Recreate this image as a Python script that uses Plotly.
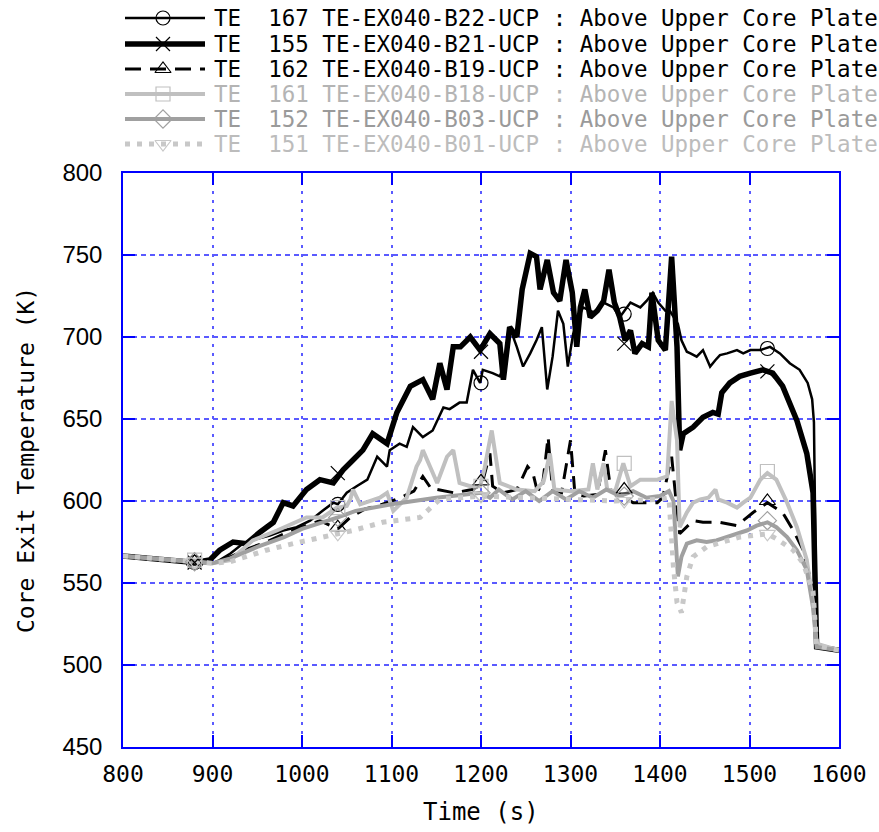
import plotly.graph_objects as go

# ---------------- data ----------------
t_b22 = [800, 850, 880, 900, 908, 920, 934, 950, 964, 979, 994, 1009, 1023, 1035, 1040, 1050, 1061, 1073, 1084, 1095,
         1098, 1109, 1117, 1124, 1135, 1146, 1158, 1165, 1176, 1184, 1191, 1199, 1202, 1213, 1221, 1229, 1232, 1240,
         1247, 1255, 1262, 1268, 1274, 1280, 1286, 1292, 1297, 1303, 1309, 1314, 1326, 1337, 1348, 1355, 1367, 1378,
         1385, 1392, 1398, 1406, 1411, 1416, 1420, 1424, 1430, 1434, 1441, 1448, 1456, 1462, 1467, 1475, 1486, 1493,
         1501, 1512, 1523, 1534, 1545, 1556, 1565, 1570, 1572, 1575, 1600]
y_b22 = [566.5, 564.5, 562.5, 562, 564, 568, 574, 577, 579, 582, 584, 588, 594, 599, 598, 605, 609, 613, 627, 621,
         631, 635, 633, 645, 639, 643, 657, 656, 660, 660, 680, 672, 680, 678, 676, 688, 706, 694,
         682, 690, 698, 706, 668, 688, 716, 708, 682, 702, 712, 718, 715, 721, 718, 712, 721, 718,
         722, 727, 721, 716, 716, 712, 708, 698, 691, 690, 688, 692, 682, 686, 689, 690, 692, 690,
         692, 692, 694, 690, 684, 680, 672, 662, 648, 513, 509]

t_b21 = [800, 850, 880, 897, 908, 923, 938, 953, 968, 979, 990, 1005, 1020, 1035, 1046, 1057, 1068, 1079, 1095, 1106,
         1121, 1135, 1146, 1154, 1162, 1169, 1177, 1188, 1199, 1210, 1221, 1225, 1232, 1240, 1246, 1255, 1262, 1266,
         1274, 1281, 1288, 1295, 1302, 1307, 1311, 1316, 1322, 1330, 1337, 1343, 1349, 1355, 1361, 1367, 1372, 1380,
         1387, 1391, 1398, 1406, 1413, 1419, 1422, 1426, 1437, 1448, 1459, 1465, 1469, 1478, 1489, 1501, 1515, 1526,
         1537, 1553, 1564, 1571, 1575, 1600]
y_b21 = [566.5, 564.5, 562.5, 564, 570, 575, 574, 581, 587, 599, 597, 607, 613, 611, 619, 625, 631, 641, 635, 654,
         670, 674, 662, 684, 668, 694, 694, 700, 692, 702, 696, 674, 706, 700, 729, 751, 749, 729,
         747, 727, 722, 747, 727, 694, 718, 729, 712, 716, 722, 741, 721, 712, 698, 704, 690, 696,
         694, 727, 698, 692, 749, 694, 631, 641, 645, 651, 654, 653, 666, 672, 676, 678, 680, 678,
         670, 649, 629, 605, 511, 509]

t_b19 = [800, 850, 880, 900, 920, 940, 960, 980, 1000, 1020, 1040, 1054, 1070, 1090, 1110, 1125, 1135, 1145, 1151,
         1170, 1190, 1201, 1210, 1213, 1225, 1240, 1247, 1252, 1258, 1262, 1268, 1275, 1280, 1290, 1300, 1305, 1315,
         1330, 1339, 1345, 1355, 1363, 1370, 1385, 1397, 1403, 1413, 1418, 1422, 1437, 1448, 1467, 1486, 1504, 1520,
         1537, 1549, 1560, 1571, 1575, 1600]
y_b19 = [566.5, 564.5, 562.5, 562, 566, 571, 575, 580, 584, 588, 583, 590, 595, 598, 602, 606, 615, 607, 607,
         605, 607, 610, 629, 609, 605, 607, 615, 621, 617, 608, 606, 639, 606, 605, 637, 604, 603,
         604, 631, 606, 604, 601, 599, 599, 599, 602, 627, 600, 580, 588, 587, 587, 585, 593, 599,
         593, 582, 570, 546, 512, 509]

t_b18 = [800, 850, 880, 900, 920, 945, 972, 1005, 1023, 1039, 1042, 1050, 1054, 1057, 1065, 1087, 1095, 1102, 1117,
         1128, 1132, 1135, 1143, 1151, 1162, 1169, 1176, 1188, 1199, 1204, 1212, 1221, 1240, 1260, 1270, 1277, 1282,
         1300, 1320, 1325, 1330, 1337, 1341, 1350, 1359, 1367, 1378, 1389, 1397, 1408, 1413, 1419, 1422, 1430, 1437,
         1445, 1454, 1462, 1465, 1475, 1486, 1493, 1501, 1512, 1520, 1530, 1542, 1553, 1564, 1571, 1575, 1600]
y_b18 = [566.5, 564.5, 563, 562, 564, 576, 582, 590, 590, 596, 596, 597, 601, 607, 598, 602, 605, 594, 602,
         621, 625, 631, 621, 611, 627, 631, 611, 609, 609, 620, 643, 611, 607, 606, 612, 629, 607,
         606, 607, 623, 607, 623, 607, 606, 623, 609, 613, 613, 613, 615, 661, 637, 584, 593, 599,
         601, 602, 607, 601, 599, 596, 599, 602, 613, 617, 613, 599, 584, 564, 538, 513, 509]

t_b03 = [800, 850, 880, 900, 920, 950, 980, 1000, 1040, 1060, 1100, 1150, 1200, 1210, 1220, 1235, 1250, 1265, 1280,
         1295, 1310, 1325, 1340, 1355, 1370, 1385, 1400, 1410, 1415, 1420, 1424, 1430, 1441, 1452, 1463, 1475, 1486,
         1497, 1508, 1520, 1530, 1542, 1553, 1564, 1571, 1575, 1600]
y_b03 = [566.5, 564.5, 563, 562, 565, 572, 578, 583, 590, 594, 598, 602, 605, 602, 607, 601, 606, 600, 606,
         601, 606, 602, 607, 603, 606, 602, 603, 606, 600, 554, 566, 574, 576, 575, 576, 578, 580,
         582, 585, 587, 584, 578, 570, 558, 535, 511, 509]

t_b01 = [800, 850, 880, 900, 920, 942, 960, 990, 1020, 1040, 1057, 1090, 1132, 1154, 1200, 1250, 1300, 1350, 1400,
         1410, 1415, 1419, 1424, 1430, 1437, 1452, 1470, 1489, 1505, 1520, 1530, 1549, 1560, 1571, 1575, 1600]
y_b01 = [566.5, 564.5, 563, 562, 563, 567, 570, 574, 578, 580, 582, 587, 590, 601, 603, 602, 601, 600, 601,
         602, 560, 538, 532, 554, 566, 572, 575, 578, 579, 580, 577, 570, 562, 545, 512, 509]

marker_t = [880, 1040, 1200, 1360, 1520]
mk_b22 = [562.5, 598, 672, 714, 693]
mk_b21 = [562.5, 617, 691, 696, 679]
mk_b19 = [563, 584, 612, 607, 600]
mk_b18 = [564, 596, 609, 623, 618]
mk_b03 = [563, 590, 605, 603, 588]
mk_b01 = [563, 580, 603, 600, 580]

labels = [
    "TE  167 TE-EX040-B22-UCP : Above Upper Core Plate",
    "TE  155 TE-EX040-B21-UCP : Above Upper Core Plate",
    "TE  162 TE-EX040-B19-UCP : Above Upper Core Plate",
    "TE  161 TE-EX040-B18-UCP : Above Upper Core Plate",
    "TE  152 TE-EX040-B03-UCP : Above Upper Core Plate",
    "TE  151 TE-EX040-B01-UCP : Above Upper Core Plate",
]
x_ticks = [800, 900, 1000, 1100, 1200, 1300, 1400, 1500, 1600]
y_ticks = [450, 500, 550, 600, 650, 700, 750, 800]
x_title = "Time (s)"
y_title = "Core Exit Temperature (K)"

# ---------------- styling ----------------
W, H = 879, 832
PL, PR, PT, PB = 123, 839, 173, 747
MONO = "DejaVu Sans Mono"
BLUE = "#0000ff"
GRID = "#5a5aff"

series = [
    dict(t=t_b22, y=y_b22, mk=mk_b22, color="#000000", width=2.5, dash="solid", sym="circle-open", txt="#000000"),
    dict(t=t_b21, y=y_b21, mk=mk_b21, color="#000000", width=5.5, dash="solid", sym="x-thin-open", txt="#000000"),
    dict(t=t_b19, y=y_b19, mk=mk_b19, color="#000000", width=3, dash="16px,9px", sym="triangle-up-open", txt="#000000"),
    dict(t=t_b18, y=y_b18, mk=mk_b18, color="#c0c0c0", width=4, dash="solid", sym="square-open", txt="#b4b4b4"),
    dict(t=t_b03, y=y_b03, mk=mk_b03, color="#a0a0a0", width=4, dash="solid", sym="diamond-open", txt="#9a9a9a"),
    dict(t=t_b01, y=y_b01, mk=mk_b01, color="#c8c8c8", width=5, dash="5px,7px", sym="triangle-down-open", txt="#bcbcbc"),
]

fig = go.Figure()

for s in series:
    fig.add_trace(go.Scatter(x=s["t"], y=s["y"], mode="lines",
                             line=dict(color=s["color"], width=s["width"], dash=s["dash"]),
                             xaxis="x", yaxis="y", showlegend=False))
for s in series:
    fig.add_trace(go.Scatter(x=marker_t, y=s["mk"], mode="markers",
                             marker=dict(symbol=s["sym"], size=14, color=s["color"],
                                         line=dict(color=s["color"], width=1.2)),
                             xaxis="x", yaxis="y", showlegend=False, cliponaxis=False))

# custom legend (drawn in a pixel-coordinate overlay)
row_y = [18, 44, 69, 94, 119, 144]
annotations = []
for i, s in enumerate(series):
    yy = row_y[i]
    fig.add_trace(go.Scatter(x=[125, 205], y=[yy, yy], mode="lines",
                             line=dict(color=s["color"], width=s["width"], dash=s["dash"]),
                             xaxis="x2", yaxis="y2", showlegend=False, hoverinfo="skip"))
    fig.add_trace(go.Scatter(x=[163], y=[yy], mode="markers",
                             marker=dict(symbol=s["sym"], size=14, color=s["color"],
                                         line=dict(color=s["color"], width=1.2)),
                             xaxis="x2", yaxis="y2", showlegend=False, hoverinfo="skip"))
    annotations.append(dict(x=212, y=yy, xref="x2", yref="y2", xanchor="left", yanchor="middle",
                            text=labels[i].replace(" ", "\u00a0"), showarrow=False,
                            font=dict(family=MONO, size=22.5, color=s["txt"])))

annotations.append(dict(x=26, y=(PT + PB) / 2, xref="x2", yref="y2", xanchor="center", yanchor="middle",
                        text=y_title.replace(" ", "\u00a0"), textangle=-90, showarrow=False,
                        font=dict(family=MONO, size=23, color="black")))
annotations.append(dict(x=(PL + PR) / 2, y=812, xref="x2", yref="y2", xanchor="center", yanchor="middle",
                        text=x_title.replace(" ", "\u00a0"), showarrow=False,
                        font=dict(family=MONO, size=24, color="black")))

axis_common = dict(showline=True, linecolor=BLUE, linewidth=1.5, mirror="ticks", ticks="inside",
                   ticklen=12, tickcolor=BLUE, tickwidth=1.5, showgrid=True, gridcolor=GRID,
                   gridwidth=1.5, zeroline=False, automargin=False)

fig.update_layout(
    width=W, height=H, margin=dict(l=0, r=0, t=0, b=0, autoexpand=False),
    paper_bgcolor="white", plot_bgcolor="rgba(0,0,0,0)", showlegend=False,
    xaxis=dict(domain=[PL / W, PR / W], range=[800, 1600], tickvals=x_ticks, griddash="3px,6px",
               tickfont=dict(family=MONO, size=23, color="black"), ticklabelstandoff=6,
               anchor="y", **axis_common),
    yaxis=dict(domain=[1 - PB / H, 1 - PT / H], range=[450, 800], tickvals=y_ticks, griddash="5px,4px",
               tickfont=dict(family="Liberation Sans", size=24, color="black"), ticklabelstandoff=14,
               anchor="x", **axis_common),
    xaxis2=dict(domain=[0, 1], range=[0, W], visible=False, anchor="y2", fixedrange=True, automargin=False),
    yaxis2=dict(domain=[0, 1], range=[H, 0], visible=False, anchor="x2", fixedrange=True, automargin=False),
    annotations=annotations,
)

fig.write_html("out.html")
